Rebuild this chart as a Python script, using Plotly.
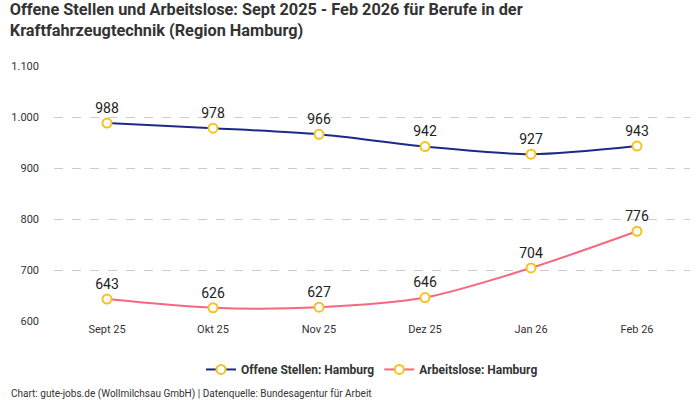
import plotly.graph_objects as go

months = ["Sept 25", "Okt 25", "Nov 25", "Dez 25", "Jan 26", "Feb 26"]
offene_stellen = [988, 978, 966, 942, 927, 943]
arbeitslose = [643, 626, 627, 646, 704, 776]
y_ticks = [600, 700, 800, 900, 1000, 1100]

font_family = "Roboto, 'Noto Sans', sans-serif"
marker_style = dict(size=9, color="white", line=dict(color="#f7c21c", width=2))

fig = go.Figure()
fig.add_trace(go.Scatter(
    x=months, y=offene_stellen, name="<b>Offene Stellen: Hamburg</b>",
    mode="lines+markers+text", text=[str(v) for v in offene_stellen],
    textposition="top center", textfont=dict(size=14, color="#222", family=font_family),
    line=dict(color="#1b2a8a", width=2, shape="spline", smoothing=0.8),
    marker=marker_style, cliponaxis=False,
))
fig.add_trace(go.Scatter(
    x=months, y=arbeitslose, name="<b>Arbeitslose: Hamburg</b>",
    mode="lines+markers+text", text=[str(v) for v in arbeitslose],
    textposition="top center", textfont=dict(size=14, color="#222", family=font_family),
    line=dict(color="#f5687f", width=2, shape="spline", smoothing=0.8),
    marker=marker_style, cliponaxis=False,
))

fig.update_layout(
    width=700, height=400,
    margin=dict(l=54, r=10, t=66, b=79),
    paper_bgcolor="white", plot_bgcolor="white",
    separators=",.",
    font=dict(family=font_family, color="#333"),
    title=dict(
        text="<b>Offene Stellen und Arbeitslose: Sept 2025 - Feb 2026 für Berufe in der<br>Kraftfahrzeugtechnik (Region Hamburg)</b>",
        x=0.014, xanchor="left", y=0.962, yanchor="top",
        font=dict(size=16.3, color="#333", family=font_family),
    ),
    xaxis=dict(
        type="category", range=[-0.5, 5.5], showgrid=False, showline=False,
        ticks="", tickfont=dict(size=11, color="#333"), fixedrange=True,
    ),
    yaxis=dict(
        range=[600, 1100], tickvals=y_ticks, tickformat=",d",
        showgrid=True, gridcolor="#cccccc", griddash="dash", gridwidth=1,
        zeroline=False, showline=False, ticks="", ticklabelstandoff=14,
        tickfont=dict(size=11, color="#333"),
    ),
    legend=dict(
        orientation="h", x=0.5, xanchor="center", y=-0.19, yanchor="middle",
        font=dict(size=12, color="#333", family=font_family),
        traceorder="normal",
    ),
    showlegend=True,
)

fig.add_annotation(
    text="Chart: gute-jobs.de (Wollmilchsau GmbH) | Datenquelle: Bundesagentur für Arbeit",
    xref="paper", yref="paper", x=-0.0707, y=-0.285, xanchor="left", yanchor="middle",
    showarrow=False, font=dict(size=10, color="#333", family=font_family),
)

fig.write_html("out.html", config={"displayModeBar": False},
               post_script="document.body.style.margin='0';document.body.style.overflow='hidden';")
